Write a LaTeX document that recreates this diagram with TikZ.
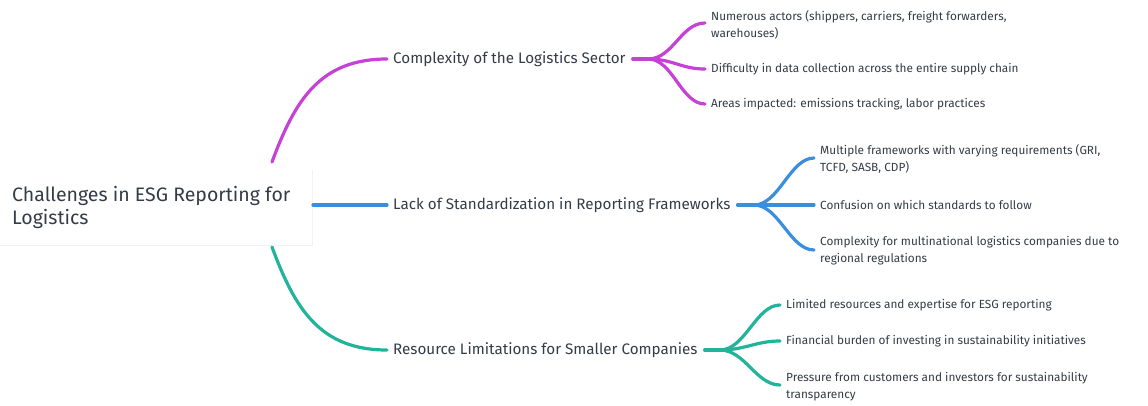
\documentclass[tikz,border=0pt]{standalone}
\usepackage{fontspec}
\setmainfont{Fira Sans}
\begin{document}
\begin{tikzpicture}[x=1pt,y=-1pt,
  txt/.style={text=textgray, inner sep=0pt, anchor=west, align=left},
  rootbox/.style={txt, font=\fontsize{19.5}{23}\selectfont},
  branch/.style={txt, font=\fontsize{15.2}{18}\selectfont},
  leaf/.style={txt, font=\fontsize{11.8}{17}\selectfont},
  conn/.style={line width=3.2pt, line cap=round},
  magc/.style={conn, draw=cmag},
  bluc/.style={conn, draw=cblue},
  teac/.style={conn, draw=cteal}]
\definecolor{textgray}{HTML}{353C48}
\definecolor{cmag}{HTML}{C642D6}
\definecolor{cblue}{HTML}{3A8EDD}
\definecolor{cteal}{HTML}{22B39B}
\useasboundingbox[fill=white] (0,0) rectangle (1148,405);
% root
\fill[white] (0,170) rectangle (312,245);
\draw[black!5] (0,245) -- (312,245) -- (312,170);
\node[rootbox] (root) at (12,207) {Challenges in ESG Reporting for\\Logistics};
\coordinate (rA) at (272,162);
\coordinate (rB) at (313,205);
\coordinate (rC) at (272,247);
% branches
\node[branch] (b1) at (393,59) {Complexity of the Logistics Sector};
\node[branch] (b2) at (393,205) {Lack of Standardization in Reporting Frameworks};
\node[branch] (b3) at (393,350) {Resource Limitations for Smaller Companies};
\draw[magc] (rA) .. controls (295,100) and (320,59) .. ([xshift=-6pt]b1.west);
\draw[bluc] (rB) -- ([xshift=-6pt]b2.west);
\draw[teac] (rC) .. controls (295,309) and (320,350) .. ([xshift=-6pt]b3.west);
% hubs
\coordinate (h1) at (648,59);
\coordinate (h2) at (754,205);
\coordinate (h3) at (720,350);
\draw[magc] ([xshift=7pt]b1.east) -- (h1);
\draw[bluc] ([xshift=7pt]b2.east) -- (h2);
\draw[teac] ([xshift=7pt]b3.east) -- (h3);
% leaves 1
\node[leaf] (l11) at (711,24.5) {Numerous actors (shippers, carriers, freight forwarders,\\warehouses)};
\node[leaf] (l12) at (711,69) {Difficulty in data collection across the entire supply chain};
\node[leaf] (l13) at (711,104) {Areas impacted: emissions tracking, labor practices};
\foreach \n/\y in {l11/23,l12/69,l13/104}
  \draw[magc] (h1) .. controls ++(25,0) and ([xshift=-30pt]\n.west |- 0,\y) .. ([xshift=-6pt]\n.west |- 0,\y);
% leaves 2
\node[leaf] (l21) at (820,158.5) {Multiple frameworks with varying requirements (GRI,\\TCFD, SASB, CDP)};
\node[leaf] (l22) at (820,205) {Confusion on which standards to follow};
\node[leaf] (l23) at (820,250.5) {Complexity for multinational logistics companies due to\\regional regulations};
\foreach \n/\y in {l21/158,l22/205,l23/250}
  \draw[bluc] (h2) .. controls ++(25,0) and ([xshift=-30pt]\n.west |- 0,\y) .. ([xshift=-6pt]\n.west |- 0,\y);
% leaves 3
\node[leaf] (l31) at (786,305) {Limited resources and expertise for ESG reporting};
\node[leaf] (l32) at (786,341) {Financial burden of investing in sustainability initiatives};
\node[leaf] (l33) at (786,386.5) {Pressure from customers and investors for sustainability\\transparency};
\foreach \n/\y in {l31/305,l32/341,l33/385}
  \draw[teac] (h3) .. controls ++(25,0) and ([xshift=-30pt]\n.west |- 0,\y) .. ([xshift=-6pt]\n.west |- 0,\y);
\end{tikzpicture}
\end{document}
